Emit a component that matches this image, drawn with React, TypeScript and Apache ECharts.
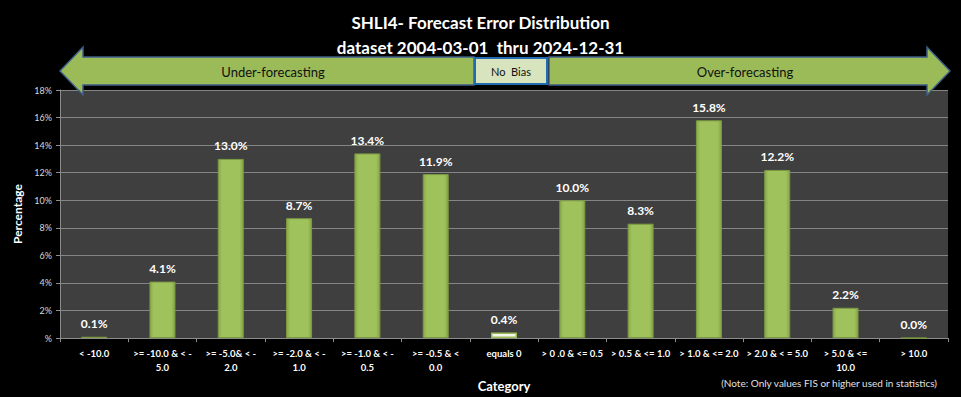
import React, { useEffect, useRef } from "react";
import * as echarts from "echarts";

const categories = [
  "< -10.0",
  ">= -10.0 & < -\n5.0",
  ">= -5.0& < -\n2.0",
  ">= -2.0 & < -\n1.0",
  ">= -1.0 & < -\n0.5",
  ">= -0.5 & <\n0.0",
  "equals 0",
  "> 0 .0 & <= 0.5",
  "> 0.5 & <= 1.0",
  "> 1.0 & <= 2.0",
  "> 2.0 & < = 5.0",
  "> 5.0 & <=\n10.0",
  "> 10.0",
];
const percentages = [0.1, 4.1, 13.0, 8.7, 13.4, 11.9, 0.4, 10.0, 8.3, 15.8, 12.2, 2.2, 0.0];
const highlightCategory = "equals 0";
const titleLines = ["SHLI4- Forecast Error Distribution", "dataset 2004-03-01  thru 2024-12-31"];
const noteText = "(Note: Only values FIS or higher used in statistics)";

const FONT = "Lato, 'Open Sans', sans-serif";

export default function App() {
  const ref = useRef<HTMLDivElement>(null);
  useEffect(() => {
    document.body.style.margin = "0";
    document.body.style.background = "#000";
    const chart = echarts.init(ref.current!, null, { renderer: "svg" });
    const green = "#9bbb59";
    const data = percentages.map((v, i) =>
      categories[i] === highlightCategory
        ? { value: v, itemStyle: { color: "#f4f8ec", borderColor: "#9bbb59", borderWidth: 1.5 } }
        : v
    );
    const arrowStyle = { fill: green, stroke: "#3e5f8a", lineWidth: 1.5 };
    chart.setOption({
      animation: false,
      backgroundColor: "#000",
      textStyle: { fontFamily: FONT },
      title: {
        text: titleLines.join("\n"),
        left: "center",
        top: 5,
        z: 20,
        textStyle: { color: "#fff", fontSize: 17, fontWeight: "bold", lineHeight: 25, fontFamily: FONT },
      },
      grid: {
        left: 60,
        right: 13,
        top: 90,
        bottom: 57,
        show: true,
        backgroundColor: "#3f3f3f",
        borderWidth: 0,
      },
      xAxis: {
        type: "category",
        data: categories,
        name: "Category",
        nameLocation: "middle",
        nameGap: 38,
        nameTextStyle: { color: "#fff", fontSize: 13, fontWeight: "bold" },
        axisLine: { lineStyle: { color: "#8c8c8c", width: 1 } },
        axisTick: { show: true, length: 4, lineStyle: { color: "#8c8c8c" } },
        axisLabel: {
          interval: 0,
          color: "#fff",
          fontSize: 9.5,
          fontWeight: "bold",
          lineHeight: 14,
          margin: 8,
        },
      },
      yAxis: {
        type: "value",
        min: 0,
        max: 18,
        interval: 2,
        name: "Percentage",
        nameLocation: "middle",
        nameRotate: 90,
        nameGap: 37,
        nameTextStyle: { color: "#fff", fontSize: 12, fontWeight: "bold" },
        axisLine: { show: true, lineStyle: { color: "#8c8c8c" } },
        axisTick: { show: true, length: 4, lineStyle: { color: "#8c8c8c" } },
        splitLine: { lineStyle: { color: "#858585", width: 1 } },
        axisLabel: {
          color: "#d9d9d9",
          fontSize: 9,
          margin: 8,
          formatter: (v: number) => (v === 0 ? "%" : v + "%"),
        },
      },
      series: [
        {
          type: "bar",
          data,
          barWidth: 26,
          itemStyle: {
            color: {
              type: "linear",
              x: 0, y: 0, x2: 1, y2: 0,
              colorStops: [
                { offset: 0, color: "#8aa94c" },
                { offset: 0.15, color: "#9fc25c" },
                { offset: 0.85, color: "#9fc25c" },
                { offset: 1, color: "#86a449" },
              ],
            },
            borderColor: "#7c9a41",
            borderWidth: 1,
          },
          label: {
            show: true,
            position: "top",
            distance: 7,
            color: "#fff",
            fontSize: 12,
            fontWeight: "bold",
            formatter: (p: any) => Number(p.value).toFixed(1) + "%",
          },
        },
      ],
      graphic: [
        {
          type: "polygon",
          shape: {
            points: [
              [60, 71], [83, 47], [83, 57], [474, 57], [474, 85], [83, 85], [83, 95],
            ],
          },
          style: arrowStyle,
          z: 1,
        },
        {
          type: "polygon",
          shape: {
            points: [
              [549, 57], [927, 57], [927, 47], [950, 71], [927, 95], [927, 85], [549, 85],
            ],
          },
          style: arrowStyle,
          z: 1,
        },
        {
          type: "rect",
          shape: { x: 475, y: 58, width: 72, height: 26 },
          style: { fill: "#d7e4bd", stroke: "#1f6cb0", lineWidth: 2 },
          z: 2,
        },
        {
          type: "text",
          x: 273, y: 72,
          style: { text: "Under-forecasting", fill: "#111", fontSize: 13, fontFamily: FONT, align: "center", verticalAlign: "middle" },
          z: 3,
        },
        {
          type: "text",
          x: 745, y: 72,
          style: { text: "Over-forecasting", fill: "#111", fontSize: 13, fontFamily: FONT, align: "center", verticalAlign: "middle" },
          z: 3,
        },
        {
          type: "text",
          x: 511, y: 71,
          style: { text: "No  Bias", fill: "#111", fontSize: 11, fontFamily: FONT, align: "center", verticalAlign: "middle" },
          z: 3,
        },
        {
          type: "text",
          x: 937, y: 383,
          style: { text: noteText, fill: "#e0e0e0", fontSize: 10, fontFamily: FONT, align: "right", verticalAlign: "middle" },
          z: 3,
        },
      ],
    });
    return () => chart.dispose();
  }, []);
  return <div ref={ref} style={{ width: 961, height: 397 }} />;
}
